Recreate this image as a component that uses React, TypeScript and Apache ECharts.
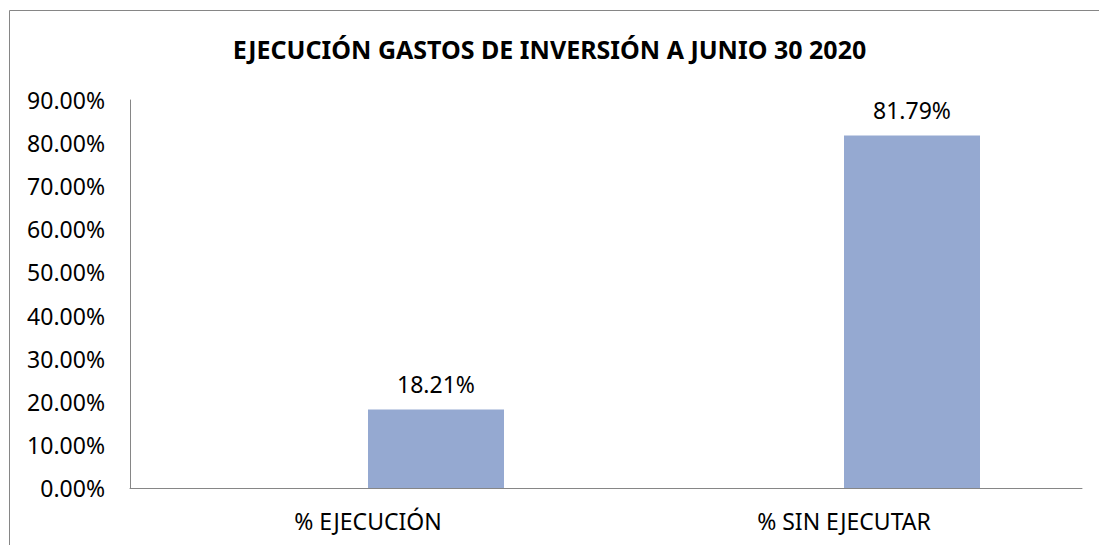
import React, { useEffect, useRef } from "react";
import * as echarts from "echarts";

const TITLE = "EJECUCIÓN GASTOS DE INVERSIÓN A JUNIO 30 2020";
const categories = ["% EJECUCIÓN", "% SIN EJECUTAR"];
const values = [18.21, 81.79];
const emptySeries = [null, null];

export default function App() {
  const ref = useRef<HTMLDivElement>(null);
  useEffect(() => {
    document.body.style.margin = "0";
    const chart = echarts.init(ref.current!, null, { renderer: "svg" });
    const font = "'Noto Sans', sans-serif";
    chart.setOption({
      animation: false,
      backgroundColor: "#ffffff",
      title: {
        text: TITLE,
        left: "center",
        top: 31,
        textStyle: { fontFamily: font, fontSize: 25, fontWeight: "bold", color: "#000000" },
      },
      graphic: [
        {
          type: "rect",
          shape: { x: 9.5, y: 10.5, width: 1200, height: 700 },
          style: { fill: "none", stroke: "#868686", lineWidth: 1 },
          silent: true,
        },
      ],
      grid: { left: 130, right: 17, top: 100, bottom: 57 },
      xAxis: {
        type: "category",
        data: categories,
        axisLine: { show: true, lineStyle: { color: "#868686", width: 1 } },
        axisTick: { show: false },
        axisLabel: { fontFamily: font, fontSize: 23, color: "#000000", margin: 21 },
      },
      yAxis: {
        type: "value",
        min: 0,
        max: 90,
        interval: 10,
        axisLine: { show: true, lineStyle: { color: "#868686", width: 1 } },
        axisTick: { show: false },
        splitLine: { show: false },
        axisLabel: {
          fontFamily: font,
          fontSize: 23,
          color: "#000000",
          margin: 25,
          formatter: (v: number) => v.toFixed(2) + "%",
        },
      },
      series: [
        {
          type: "bar",
          data: emptySeries,
          barWidth: 136,
          barGap: "0%",
          itemStyle: { color: "#95A9D1" },
        },
        {
          type: "bar",
          data: values,
          barWidth: 136,
          barGap: "0%",
          itemStyle: { color: "#95A9D1" },
          label: {
            show: true,
            position: "top",
            distance: 14,
            fontFamily: font,
            fontSize: 23,
            color: "#000000",
            formatter: (p: any) => p.value.toFixed(2) + "%",
          },
        },
      ],
    });
    return () => chart.dispose();
  }, []);
  return <div ref={ref} style={{ width: 1099, height: 545 }} />;
}
